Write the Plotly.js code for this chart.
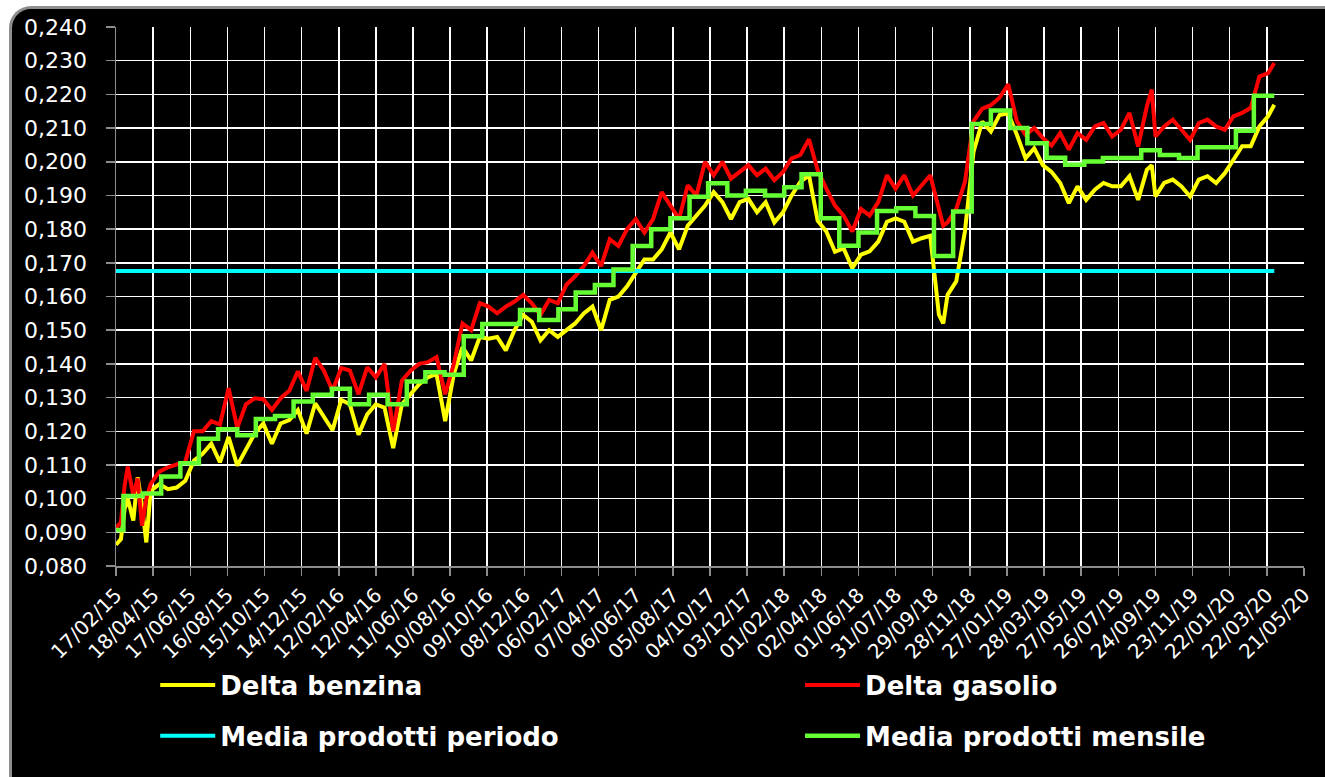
<!DOCTYPE html>
<html><head><meta charset="utf-8">
<script src="https://cdn.plot.ly/plotly-3.0.1.min.js"></script>
<style>
html,body{margin:0;padding:0;background:#fff;width:1325px;height:777px;overflow:hidden}
#frame{position:absolute;left:9px;top:6px;width:1316px;height:771px;background:#000;border-left:3px solid #8e8e8e;border-top:3px solid #8e8e8e;border-top-left-radius:22px;box-sizing:border-box}
#chart{position:absolute;left:0;top:0;width:1325px;height:777px}
</style></head><body>
<div id="frame"></div><div id="chart"></div>
<script>
const dates = [
'2015-02-17','2015-02-25','2015-03-03','2015-03-08','2015-03-17','2015-03-24','2015-03-31','2015-04-07','2015-04-14','2015-04-28',
'2015-05-12','2015-05-26','2015-06-09','2015-06-23','2015-07-07','2015-07-21','2015-08-04','2015-08-18','2015-09-01','2015-09-15',
'2015-09-29','2015-10-13','2015-10-27','2015-11-10','2015-11-24','2015-12-08','2015-12-22','2016-01-05','2016-01-19','2016-02-02',
'2016-02-16','2016-03-01','2016-03-15','2016-03-29','2016-04-12','2016-04-26','2016-05-10','2016-05-24','2016-06-07','2016-06-21',
'2016-07-05','2016-07-19','2016-08-02','2016-08-16','2016-08-30','2016-09-13','2016-09-27','2016-10-11','2016-10-25','2016-11-08',
'2016-11-22','2016-12-06','2016-12-20','2017-01-03','2017-01-17','2017-01-31','2017-02-14','2017-02-28','2017-03-14','2017-03-28',
'2017-04-11','2017-04-25','2017-05-09','2017-05-23','2017-06-06','2017-06-20','2017-07-04','2017-07-18','2017-08-01','2017-08-15',
'2017-08-29','2017-09-12','2017-09-26','2017-10-10','2017-10-24','2017-11-07','2017-11-21','2017-12-05','2017-12-19','2018-01-02',
'2018-01-16','2018-01-30','2018-02-13','2018-02-27','2018-03-13','2018-03-27','2018-04-10','2018-04-24','2018-05-08','2018-05-22',
'2018-06-05','2018-06-19','2018-07-03','2018-07-17','2018-07-31','2018-08-14','2018-08-28','2018-09-11','2018-09-25','2018-10-09',
'2018-10-16','2018-10-23','2018-11-06','2018-11-20','2018-12-04','2018-12-18','2019-01-01','2019-01-15','2019-01-29','2019-02-12',
'2019-02-26','2019-03-12','2019-03-26','2019-04-09','2019-04-23','2019-05-07','2019-05-21','2019-06-04','2019-06-18','2019-07-02',
'2019-07-16','2019-07-30','2019-08-13','2019-08-27','2019-09-10','2019-09-18','2019-09-24','2019-10-08','2019-10-22','2019-11-05',
'2019-11-19','2019-12-03','2019-12-17','2019-12-31','2020-01-14','2020-01-28','2020-02-11','2020-02-25','2020-03-10','2020-03-24',
'2020-04-03'];

const deltaBenzina = [
0.0863,0.0880,0.0970,0.1000,0.0935,0.1063,0.0980,0.0870,0.1023,0.1043,
0.1028,0.1033,0.1053,0.1113,0.1133,0.1163,0.1108,0.1183,0.1098,0.1143,
0.1193,0.1223,0.1163,0.1223,0.1233,0.1263,0.1193,0.1283,0.1243,0.1203,
0.1293,0.1280,0.1190,0.1250,0.1280,0.1270,0.1150,0.1280,0.1310,0.1340,
0.1360,0.1370,0.1230,0.1370,0.1450,0.1410,0.1480,0.1475,0.1480,0.1440,
0.1500,0.1545,0.1525,0.1470,0.1500,0.1480,0.1500,0.1520,0.1550,0.1570,
0.1500,0.1590,0.1600,0.1630,0.1670,0.1710,0.1710,0.1740,0.1790,0.1740,
0.1810,0.1840,0.1870,0.1910,0.1880,0.1830,0.1880,0.1890,0.1850,0.1880,
0.1820,0.1850,0.1900,0.1940,0.1960,0.1825,0.1793,0.1733,0.1743,0.1684,
0.1724,0.1734,0.1763,0.1822,0.1832,0.1822,0.1763,0.1773,0.1780,0.1546,
0.1520,0.1605,0.1645,0.1793,0.2030,0.2119,0.2090,0.2139,0.2144,0.2080,
0.2010,0.2040,0.1990,0.1970,0.1937,0.1877,0.1927,0.1887,0.1917,0.1937,
0.1927,0.1927,0.1957,0.1887,0.1976,0.1990,0.1897,0.1937,0.1947,0.1927,
0.1897,0.1947,0.1957,0.1937,0.1966,0.2006,0.2046,0.2046,0.2105,0.2135,
0.2169];

const deltaGasolio = [
0.0913,0.0930,0.1040,0.1095,0.1010,0.1060,0.0920,0.1000,0.1043,0.1080,
0.1093,0.1100,0.1110,0.1200,0.1200,0.1230,0.1220,0.1328,0.1210,0.1280,
0.1298,0.1295,0.1263,0.1298,0.1320,0.1378,0.1320,0.1418,0.1380,0.1320,
0.1388,0.1380,0.1310,0.1390,0.1360,0.1400,0.1200,0.1350,0.1380,0.1400,
0.1405,0.1420,0.1310,0.1400,0.1520,0.1500,0.1580,0.1570,0.1550,0.1570,
0.1585,0.1605,0.1580,0.1545,0.1590,0.1580,0.1635,0.1660,0.1690,0.1730,
0.1690,0.1770,0.1750,0.1800,0.1830,0.1790,0.1830,0.1910,0.1870,0.1830,
0.1930,0.1900,0.2000,0.1960,0.2000,0.1950,0.1970,0.1990,0.1960,0.1980,
0.1945,0.1970,0.2010,0.2020,0.2067,0.1975,0.1920,0.1870,0.1840,0.1793,
0.1860,0.1840,0.1880,0.1960,0.1920,0.1960,0.1900,0.1930,0.1960,0.1860,
0.1810,0.1820,0.1860,0.1940,0.2120,0.2158,0.2168,0.2190,0.2230,0.2120,
0.2080,0.2100,0.2070,0.2048,0.2085,0.2036,0.2085,0.2065,0.2105,0.2115,
0.2075,0.2095,0.2145,0.2045,0.2164,0.2214,0.2075,0.2105,0.2125,0.2095,
0.2065,0.2115,0.2125,0.2105,0.2095,0.2135,0.2145,0.2160,0.2253,0.2263,
0.2293];

const mesiMedia = [
'2015-02-17','2015-03-01','2015-04-01','2015-05-01','2015-06-01','2015-07-01','2015-08-01','2015-09-01','2015-10-01','2015-11-01','2015-12-01',
'2016-01-01','2016-02-01','2016-03-01','2016-04-01','2016-05-01','2016-06-01','2016-07-01','2016-08-01','2016-09-01','2016-10-01','2016-11-01','2016-12-01',
'2017-01-01','2017-02-01','2017-03-01','2017-04-01','2017-05-01','2017-06-01','2017-07-01','2017-08-01','2017-09-01','2017-10-01','2017-11-01','2017-12-01',
'2018-01-01','2018-02-01','2018-03-01','2018-04-01','2018-05-01','2018-06-01','2018-07-01','2018-08-01','2018-09-01','2018-10-01','2018-11-01','2018-12-01',
'2019-01-01','2019-02-01','2019-03-01','2019-04-01','2019-05-01','2019-06-01','2019-07-01','2019-08-01','2019-09-01','2019-10-01','2019-11-01','2019-12-01',
'2020-01-01','2020-02-01','2020-03-01','2020-04-03'];

const mediaMensile = [
0.0907,0.1008,0.1015,0.1066,0.1105,0.1178,0.1206,0.1188,0.1236,0.1245,0.1288,
0.1308,0.1326,0.1280,0.1308,0.1280,0.1348,0.1375,0.1368,0.1482,0.1518,0.1518,0.1560,
0.1530,0.1562,0.1612,0.1634,0.1680,0.1750,0.1800,0.1832,0.1896,0.1936,0.1900,0.1914,
0.1900,0.1924,0.1963,0.1832,0.1751,0.1790,0.1854,0.1862,0.1839,0.1720,0.1852,0.2112,
0.2152,0.2100,0.2055,0.2012,0.1991,0.2001,0.2011,0.2011,0.2034,0.2020,0.2011,0.2043,
0.2043,0.2092,0.2196,0.2196];

const periodoDates = ['2015-02-17','2020-04-03'];
const mediaPeriodo = [0.1676, 0.1676];

const seriesNames = ['Delta benzina','Delta gasolio','Media prodotti periodo','Media prodotti mensile'];

const traces = [
  {x: dates, y: deltaBenzina, name: seriesNames[0], type: 'scatter', mode: 'lines',
   line: {color: '#ffff00', width: 4}, legend: 'legend'},
  {x: dates, y: deltaGasolio, name: seriesNames[1], type: 'scatter', mode: 'lines',
   line: {color: '#ff0000', width: 4}, legend: 'legend2'},
  {x: periodoDates, y: mediaPeriodo, name: seriesNames[2], type: 'scatter', mode: 'lines',
   line: {color: '#00ffff', width: 4}, legend: 'legend3'},
  {x: mesiMedia, y: mediaMensile, name: seriesNames[3], type: 'scatter', mode: 'lines',
   line: {color: '#66ff33', width: 4.5, shape: 'hv'}, legend: 'legend4'}
];

const legendFont = {family: 'DejaVu Sans', size: 26, color: '#ffffff', weight: 'bold'};
function legendAt(x, y) {
  return {orientation: 'h', x: x, xanchor: 'left', y: y, yanchor: 'middle',
    font: legendFont, bgcolor: 'rgba(0,0,0,0)', borderwidth: 0, itemwidth: 55};
}

const layout = {
  width: 1325, height: 777,
  paper_bgcolor: 'rgba(0,0,0,0)',
  plot_bgcolor: '#000000',
  separators: ',.',
  margin: {l: 116, r: 21, t: 27, b: 211},
  showlegend: true,
  xaxis: {
    type: 'date',
    range: ['2015-02-17', '2020-05-21 01:00'],
    tickmode: 'linear', tick0: '2015-02-17', dtick: 60 * 86400000,
    tickformat: '%d/%m/%y', tickangle: -45,
    tickfont: {family: 'DejaVu Sans', size: 20, color: '#ffffff'},
    showgrid: true, gridcolor: '#ffffff', gridwidth: 1.5,
    showline: true, linecolor: '#8c8c8c', linewidth: 1.5,
    ticks: 'outside', ticklen: 8, tickcolor: '#8c8c8c', tickwidth: 1.5,
    zeroline: false, fixedrange: true
  },
  yaxis: {
    range: [0.08, 0.24], tickmode: 'linear', tick0: 0.08, dtick: 0.01,
    tickformat: '.3f',
    tickfont: {family: 'DejaVu Sans', size: 22, color: '#ffffff'},
    showgrid: true, gridcolor: '#ffffff', gridwidth: 1.5,
    showline: true, linecolor: '#8c8c8c', linewidth: 1.5,
    ticks: 'outside', ticklen: 9, tickcolor: '#8c8c8c', tickwidth: 1.5,
    ticklabelstandoff: 14,
    zeroline: false, fixedrange: true
  },
  legend: legendAt(0.033, -0.221),
  legend2: legendAt(0.5758, -0.221),
  legend3: legendAt(0.033, -0.315),
  legend4: legendAt(0.5758, -0.315)
};

Plotly.newPlot('chart', traces, layout, {staticPlot: true, displayModeBar: false});
</script>
</body></html>
